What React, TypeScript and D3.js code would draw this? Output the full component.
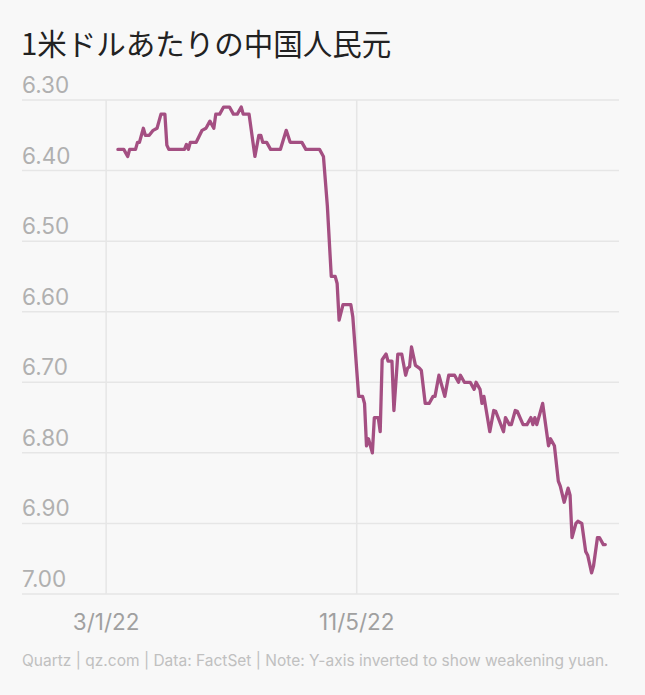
import React from "react";
import * as d3 from "d3";

const title = "1米ドルあたりの中国人民元";
const footer = "Quartz | qz.com | Data: FactSet | Note: Y-axis inverted to show weakening yuan.";

const dates = [
  "2022-01-09","2022-01-12","2022-01-14","2022-01-15","2022-01-18","2022-01-19","2022-01-20","2022-01-22","2022-01-23","2022-01-25",
  "2022-01-27","2022-01-29","2022-01-31","2022-02-02","2022-02-03","2022-02-04","2022-02-12","2022-02-13","2022-02-14","2022-02-15",
  "2022-02-18","2022-02-21","2022-02-23","2022-02-25","2022-02-27","2022-02-28","2022-03-02","2022-03-04","2022-03-07","2022-03-09",
  "2022-03-11","2022-03-13","2022-03-14","2022-03-17","2022-03-20","2022-03-22","2022-03-23","2022-03-24","2022-03-26","2022-03-28",
  "2022-04-02","2022-04-05","2022-04-07","2022-04-13","2022-04-15","2022-04-22","2022-04-24","2022-04-26","2022-04-28","2022-04-30",
  "2022-05-01","2022-05-02","2022-05-04","2022-05-08","2022-05-09","2022-05-12","2022-05-14","2022-05-15","2022-05-16","2022-05-17",
  "2022-05-19","2022-05-20","2022-05-22","2022-05-23","2022-05-24","2022-05-26","2022-05-27","2022-05-29","2022-05-30","2022-06-01",
  "2022-06-03","2022-06-05","2022-06-06","2022-06-07","2022-06-08","2022-06-10","2022-06-12","2022-06-13","2022-06-15","2022-06-17",
  "2022-06-19","2022-06-20","2022-06-22","2022-06-25","2022-06-27","2022-06-30","2022-07-02","2022-07-03","2022-07-05","2022-07-08",
  "2022-07-10","2022-07-11","2022-07-13","2022-07-14","2022-07-15","2022-07-18","2022-07-20","2022-07-21","2022-07-25","2022-07-26",
  "2022-07-28","2022-07-29","2022-07-31","2022-08-01","2022-08-04","2022-08-06","2022-08-08","2022-08-09","2022-08-10","2022-08-11",
  "2022-08-14","2022-08-17","2022-08-18","2022-08-20","2022-08-22","2022-08-23","2022-08-25","2022-08-27","2022-08-28","2022-08-29",
  "2022-08-31","2022-09-01","2022-09-03","2022-09-05","2022-09-06","2022-09-08","2022-09-09","2022-09-11","2022-09-12","2022-09-14",
  "2022-09-15",
];

const values = [
  6.370,6.370,6.380,6.370,6.370,6.360,6.360,6.340,6.350,6.350,
  6.343,6.340,6.320,6.320,6.364,6.370,6.370,6.363,6.370,6.360,
  6.360,6.343,6.340,6.330,6.340,6.320,6.320,6.310,6.310,6.320,
  6.320,6.310,6.320,6.320,6.380,6.350,6.350,6.360,6.360,6.370,
  6.370,6.343,6.360,6.360,6.370,6.370,6.380,6.450,6.550,6.550,
  6.560,6.612,6.590,6.590,6.607,6.720,6.720,6.730,6.790,6.780,
  6.800,6.750,6.750,6.770,6.668,6.660,6.670,6.670,6.740,6.660,
  6.660,6.690,6.680,6.678,6.650,6.676,6.680,6.683,6.730,6.730,
  6.720,6.720,6.690,6.720,6.690,6.690,6.700,6.690,6.700,6.700,
  6.710,6.700,6.710,6.730,6.720,6.770,6.740,6.741,6.770,6.750,
  6.760,6.760,6.740,6.741,6.760,6.760,6.750,6.760,6.750,6.760,
  6.730,6.790,6.780,6.790,6.840,6.847,6.870,6.850,6.860,6.920,
  6.900,6.897,6.900,6.940,6.945,6.970,6.960,6.920,6.920,6.930,
  6.930,
];

const yTicks = [6.3, 6.4, 6.5, 6.6, 6.7, 6.8, 6.9, 7.0];
const xTicks = ["2022-01-03", "2022-05-11"];
const xDomain = ["2021-11-21", "2022-09-22"];

const W = 645;
const H = 695;

export default function App() {
  const parse = d3.utcParse("%Y-%m-%d");
  const fmtDate = d3.utcFormat("%-d/%-m/%y");
  const fmtY = d3.format(".2f");
  const data = dates.map((d, i) => ({ date: parse(d) as Date, value: values[i] }));

  const left = 22;
  const right = 619;
  const top = 100;
  const bottom = 594;

  const x = d3.scaleUtc().domain(xDomain.map((d) => parse(d) as Date)).range([left, right]);
  const y = d3.scaleLinear().domain([6.3, 7.0]).range([top, bottom]);

  const line = d3
    .line<{ date: Date; value: number }>()
    .x((d) => x(d.date))
    .y((d) => y(d.value));

  const labelFont = "Inter, 'Noto Sans', sans-serif";

  return (
    <svg
      width={W}
      height={H}
      style={{ position: "absolute", left: 0, top: 0, display: "block", background: "#f8f8f8" }}
    >
      <rect x={0} y={0} width={W} height={H} fill="#f8f8f8" />
      <text
        x={21}
        y={55}
        fontFamily="'Noto Sans CJK JP', sans-serif"
        fontSize={29.5}
        fill="#222"
      >
        {title}
      </text>
      {yTicks.map((t) => (
        <g key={t}>
          <line x1={left} x2={right} y1={y(t)} y2={y(t)} stroke="#e6e6e6" strokeWidth={1.5} />
          <text x={left} y={y(t) - 7} fontFamily={labelFont} fontSize={22.5} fill="#b0b0b0">
            {fmtY(t)}
          </text>
        </g>
      ))}
      {xTicks.map((t) => {
        const d = parse(t) as Date;
        return (
          <g key={t}>
            <line x1={x(d)} x2={x(d)} y1={top} y2={bottom} stroke="#e6e6e6" strokeWidth={1.5} />
            <text
              x={x(d)}
              y={630}
              textAnchor="middle"
              fontFamily={labelFont}
              fontSize={22.5}
              fill="#a0a0a0"
            >
              {fmtDate(d)}
            </text>
          </g>
        );
      })}
      <path
        d={line(data) || ""}
        fill="none"
        stroke="#a44f82"
        strokeWidth={3.3}
        strokeLinejoin="round"
        strokeLinecap="round"
      />
      <text x={22} y={666} fontFamily={labelFont} fontSize={15.5} fill="#c0c0c0">
        {footer}
      </text>
    </svg>
  );
}
